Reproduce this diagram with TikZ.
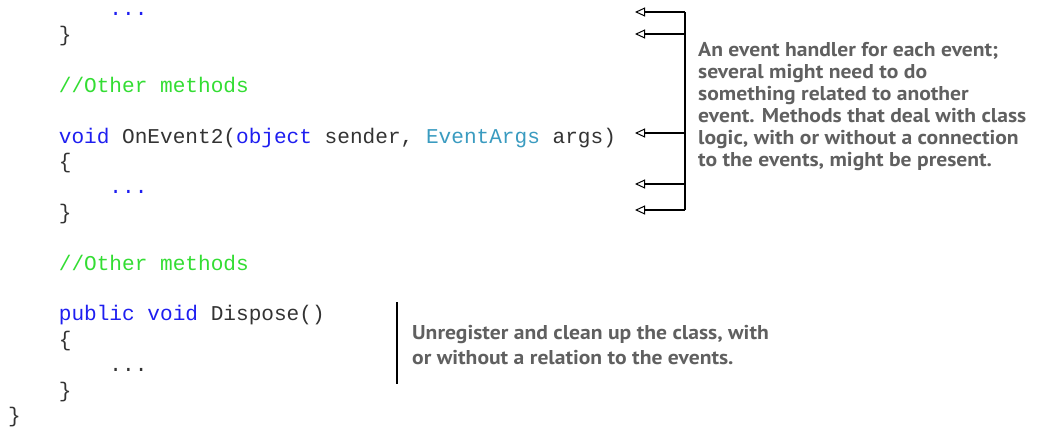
\documentclass[tikz,border=0pt]{standalone}
\usepackage{fontspec}
\usetikzlibrary{arrows.meta}

% fonts: monospaced listing, bold sans for the callouts
\newfontfamily\codefont{Liberation Mono}
\newfontfamily\notefont[FakeStretch=1.08]{PT Sans}

% listing and callout colours
\definecolor{codetext}{HTML}{333333}
\definecolor{kw}{HTML}{1E1EF0}
\definecolor{cmt}{HTML}{33DD33}
\definecolor{typ}{HTML}{3A9BC0}
\definecolor{notegray}{HTML}{606060}

\begin{document}
\begin{tikzpicture}[x=1pt,y=-1pt,
  codeline/.style={anchor=base west, inner sep=0pt, text=codetext,
    font=\codefont\fontsize{21.1}{25}\selectfont},
  note/.style={anchor=west, inner sep=0pt, align=left, text=notegray,
    font=\notefont\bfseries\fontsize{20}{22}\selectfont},
  widenote/.style={note, font=\notefont\bfseries\fontsize{20}{25}\selectfont},
  wire/.style={draw=black, line width=1.2pt},
  pointer/.style={wire, -{Triangle[open, length=10pt, width=9pt, line width=1pt]}}
]
\useasboundingbox (0,0) rectangle (1037,428);

% column width and line pitch of the listing
\def\cw{12.66}
\def\lp{25.4}

% ---- listing ----
\node[codeline] (l0)  at ({8+8*\cw},{16+0*\lp})  {\textcolor{kw}{...}};
\node[codeline] (l1)  at ({8+4*\cw},{16+1*\lp})  {\}};
\node[codeline] (l3)  at ({8+4*\cw},{16+3*\lp})  {\textcolor{cmt}{//Other methods}};
\node[codeline] (l5)  at ({8+4*\cw},{16+5*\lp})  {\textcolor{kw}{void} OnEvent2(\textcolor{kw}{object} sender, \textcolor{typ}{EventArgs} args)};
\node[codeline] (l6)  at ({8+4*\cw},{16+6*\lp})  {\{};
\node[codeline] (l7)  at ({8+8*\cw},{16+7*\lp})  {\textcolor{kw}{...}};
\node[codeline] (l8)  at ({8+4*\cw},{16+8*\lp})  {\}};
\node[codeline] (l10) at ({8+4*\cw},{16+10*\lp}) {\textcolor{cmt}{//Other methods}};
\node[codeline] (l12) at ({8+4*\cw},{16+12*\lp}) {\textcolor{kw}{public void} Dispose()};
\node[codeline] (l13) at ({8+4*\cw},{16+13*\lp}) {\{};
\node[codeline] (l14) at ({8+8*\cw},{16+14*\lp}) {...};
\node[codeline] (l15) at ({8+4*\cw},{16+15*\lp}) {\}};
\node[codeline] (l16) at ({8+0*\cw},{16+16*\lp}) {\}};

% ---- bracket with pointers to the handler lines ----
\coordinate (b0) at (685,12);
\coordinate (b1) at (685,34);
\coordinate (b2) at (685,133);
\coordinate (b3) at (685,184);
\coordinate (b4) at (685,210);
\coordinate (t0) at (635,12);
\coordinate (t1) at (635,34);
\coordinate (t2) at (635,133);
\coordinate (t3) at (635,184);
\coordinate (t4) at (635,210);

\draw[wire] (b0) -- (b4);
\foreach \i in {0,...,4} \draw[pointer] (b\i) -- (t\i);

\node[note] (handlers) at (698,107)
  {An event handler for each event;\\
   several might need to do\\
   something related to another\\
   event. Methods that deal with class\\
   logic, with or without a connection\\
   to the events, might be present.};

% ---- Dispose callout ----
\coordinate (s0) at (397,302);
\coordinate (s1) at (397,384);
\draw[wire] (s0) -- (s1);

\node[widenote] (dispose) at (412,345)
  {Unregister and clean up the class, with\\
   or without a relation to the events.};
\end{tikzpicture}
\end{document}
